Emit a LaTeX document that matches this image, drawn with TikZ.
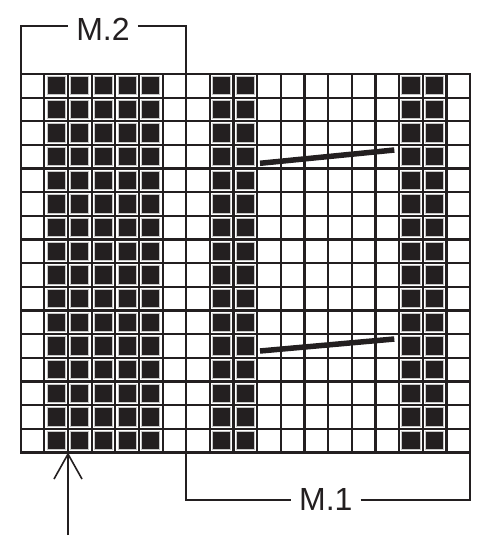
\documentclass[tikz,border=0pt]{standalone}
\usepackage{fontspec}
\setmainfont{Liberation Sans}
\usetikzlibrary{arrows.meta}
\definecolor{ink}{RGB}{35,31,32}
\begin{document}
\begin{tikzpicture}[x=1pt,y=-1pt,
  gridline/.style={draw=ink,line width=2.2pt,line cap=rect},
  bracket/.style={draw=ink,line width=2.2pt},
  slipline/.style={draw=ink,line width=5.5pt},
  lbl/.style={font=\fontsize{32}{32}\selectfont, text=ink, inner xsep=8pt, inner ysep=0pt},
  blk/.style={fill=ink, draw=gray!45, line width=1pt},
  arrowline/.style={draw=ink, line width=1.6pt, -{Straight Barb[length=25pt,width=28pt]}}
]
\useasboundingbox (0,0) rectangle (498,548);
\def\cw{23.65}
\def\xo{20.7}
\def\yo{74}
% black cells
\foreach \c in {1,2,3,4,5,8,9,16,17} {
  \foreach \r in {0,...,15} {
    \path[blk] (\xo+\c*\cw+2.7, \yo+\r*\cw+2.7) rectangle ++(\cw-5.4, \cw-5.4);
  }
}
% grid
\foreach \c in {0,...,19} {
  \draw[gridline] (\xo+\c*\cw, \yo) -- (\xo+\c*\cw, \yo+16*\cw);
}
\foreach \r in {0,...,16} {
  \draw[gridline] (\xo, \yo+\r*\cw) -- (\xo+19*\cw, \yo+\r*\cw);
}
% slanted lines
\coordinate (s1a) at (260,163.3);
\coordinate (s1b) at (394.3,150);
\coordinate (s2a) at (260,351);
\coordinate (s2b) at (394.3,339);
\draw[slipline] (s1a) -- (s1b);
\draw[slipline] (s2a) -- (s2b);
% M.2 bracket
\node[lbl] (m2) at (103,29) {M.2};
\coordinate (m2l) at (\xo,\yo);
\coordinate (m2r) at (\xo+7*\cw,\yo);
\coordinate (m2top) at (0,26);
\draw[bracket] (m2l) -- (m2l |- m2top) -- (m2.west |- m2top);
\draw[bracket] (m2.east |- m2top) -- (m2r |- m2top) -- (m2r);
% M.1 bracket
\node[lbl] (m1) at (325.8,499.7) {M.1};
\coordinate (m1l) at (\xo+7*\cw,\yo+16*\cw);
\coordinate (m1r) at (\xo+19*\cw,\yo+16*\cw);
\coordinate (m1bot) at (0,500);
\draw[bracket] (m1l) -- (m1l |- m1bot) -- (m1.west |- m1bot);
\draw[bracket] (m1.east |- m1bot) -- (m1r |- m1bot) -- (m1r);
% arrow
\coordinate (arrtail) at (\xo+2*\cw,535);
\coordinate (arrtip) at (\xo+2*\cw,\yo+16*\cw);
\draw[arrowline] (arrtail) -- (arrtip);
\end{tikzpicture}
\end{document}
